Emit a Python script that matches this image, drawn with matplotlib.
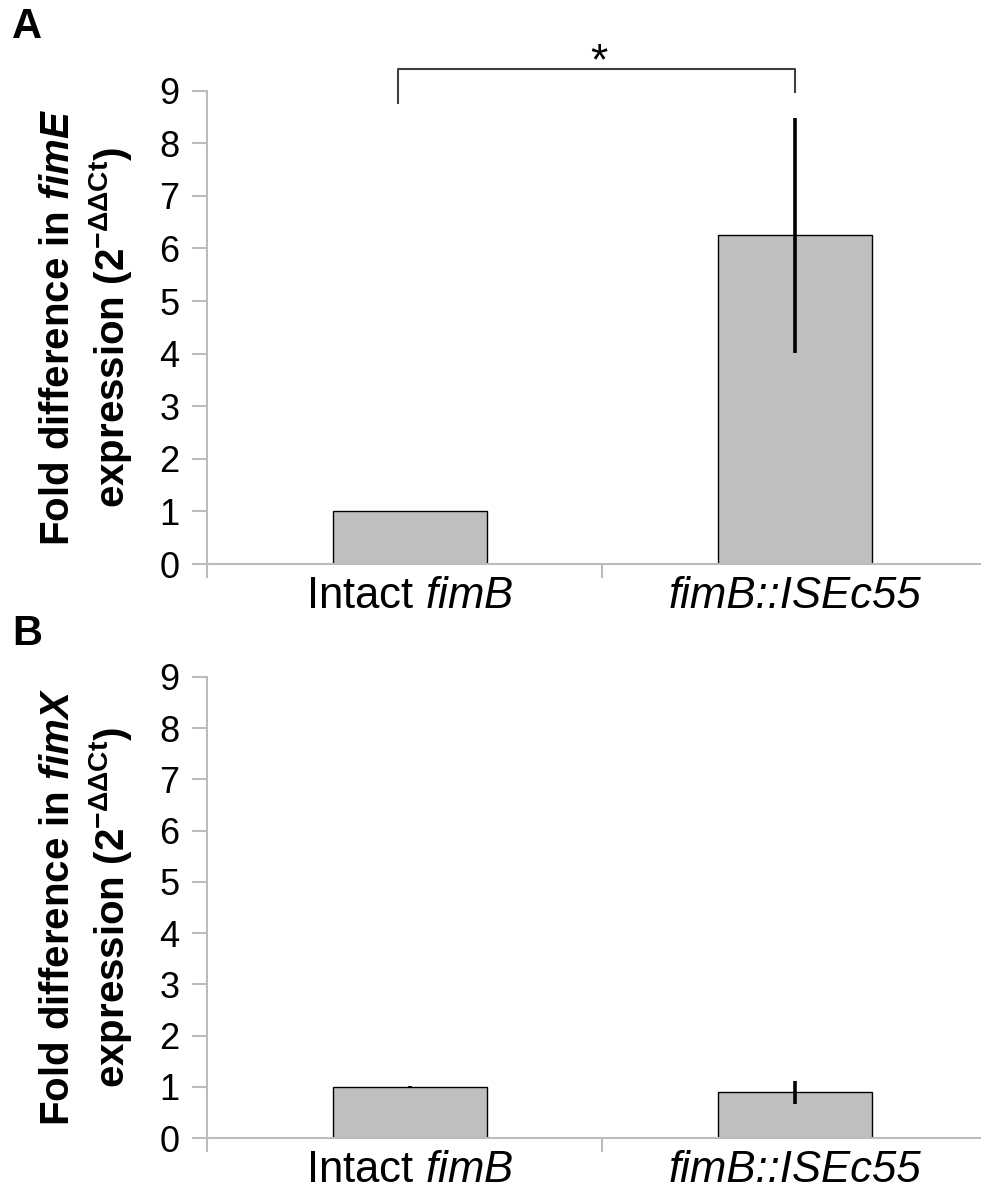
import numpy as np
import matplotlib.pyplot as plt

plt.rcParams['font.family'] = ['Liberation Sans', 'DejaVu Sans']
plt.rcParams['mathtext.fontset'] = 'custom'
plt.rcParams['mathtext.rm'] = 'Liberation Sans'
plt.rcParams['mathtext.it'] = 'Liberation Sans:italic'
plt.rcParams['mathtext.bf'] = 'Liberation Sans:bold'
plt.rcParams['mathtext.bfit'] = 'Liberation Sans:italic:bold'

# data
strains = ['Intact $\\mathit{fimB}$', 'fimB::ISEc55']
fimE_fold = [1.0, 6.25]
fimE_err = [0.0, 2.24]
fimX_fold = [1.0, 0.89]
fimX_err = [0.02, 0.22]
genes = ['fimE', 'fimX']

grey = '#bfbfbf'
axis_col = '#bcbcbc'

fig = plt.figure(figsize=(9.81, 11.94), dpi=100)
W, H = 981, 1194


def panel(top, bottom, vals, errs, gene, letter, letter_y):
    ax = fig.add_axes([207 / W, 1 - bottom / H, 1 - 207 / W, (bottom - top) / H])
    x = np.arange(len(vals))
    ax.bar(x, vals, width=0.4, color=grey, edgecolor='black', linewidth=1.0, zorder=2)
    ax.errorbar(x, vals, yerr=errs, fmt='none', ecolor='black', elinewidth=2.6,
                capsize=0, zorder=3)
    ax.set_ylim(0, 9)
    ax.set_xlim(-0.527, 1.483)
    ax.set_yticks(range(10))
    ax.set_xticks(x)
    ax.set_xticklabels(strains, fontsize=31.5)
    ax.get_xticklabels()[1].set_fontstyle('italic')
    ax.set_xticks([-0.527, 0.5], minor=True)
    ax.tick_params(axis='x', which='major', length=0, pad=9)
    ax.tick_params(axis='x', which='minor', length=10, width=1.5, color=axis_col)
    ax.tick_params(axis='y', length=11, width=1.5, color=axis_col, labelsize=26, pad=9)
    for s in ['top', 'right']:
        ax.spines[s].set_visible(False)
    for s in ['left', 'bottom']:
        ax.spines[s].set_color(axis_col)
        ax.spines[s].set_linewidth(1.5)
    yc = 1 - (top + bottom) / 2 / H
    fig.text(58 / W, yc, 'Fold difference in $\\mathbfit{' + gene + '}$', rotation=90,
             fontsize=29, fontweight='bold', ha='center', va='center')
    fig.text(110 / W, yc, 'expression (2$^{\\mathregular{-ΔΔCt}}$)', rotation=90,
             fontsize=29, fontweight='bold', ha='center', va='center')
    fig.text(12 / W, 1 - letter_y / H, letter, fontsize=30, fontweight='bold',
             ha='left', va='center')
    return ax


axA = panel(90.7, 564, fimE_fold, fimE_err, genes[0], 'A', 27)
axB = panel(677, 1138, fimX_fold, fimX_err, genes[1], 'B', 634)

# significance bracket
axA.plot([-0.03, -0.03, 1.0, 1.0], [8.76, 9.42, 9.42, 8.98], color='#404040',
         linewidth=1.5, clip_on=False)
axA.text(0.49, 9.32, '*', fontsize=32, ha='center', va='baseline')

fig.savefig('out.png', dpi=100)
